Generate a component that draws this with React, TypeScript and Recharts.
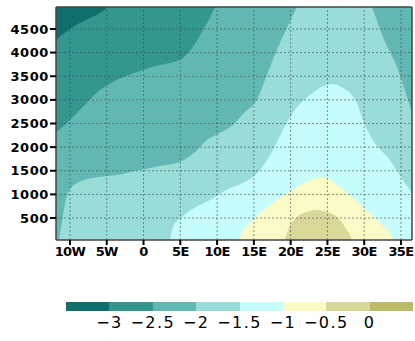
import { ComposedChart, Area, XAxis, YAxis, ReferenceLine } from "recharts";

const LON_TICKS = [-10, -5, 0, 5, 10, 15, 20, 25, 30, 35];
const LON_LABELS = ["10W", "5W", "0", "5E", "10E", "15E", "20E", "25E", "30E", "35E"];
const HGT_TICKS = [500, 1000, 1500, 2000, 2500, 3000, 3500, 4000, 4500];

const LEVEL_LABELS = ["−3", "−2.5", "−2", "−1.5", "−1", "−0.5", "0"];
const COLORS = ["#0e6f6b", "#33978f", "#62b9b4", "#99dcd8", "#c6fcfc", "#fbfbc8", "#d9d89a", "#bdbc66"];

// contour lines: where the field crosses each level (longitude, height)
// everything above a line is at or below that level
const C1_LON = [-11.9, -10.0, -8.65, -7.29, -5.93, -4.84, -3.48, -1.85];
const C1_HGT = [4266, 4499, 4626, 4732, 4838, 4964, 5176, 5367];

const C2_LON = [-11.9, -10.0, -8.65, -5.93, -3.62, -0.08, 2.23, 3.59, 5.36, 6.72, 8.07, 9.03, 9.71, 10.66];
const C2_HGT = [2298, 2573, 2785, 3208, 3420, 3631, 3737, 3779, 3885, 4118, 4478, 4732, 4964, 5282];

const C3_LON = [-12.04, -11.77, -11.5, -11.0, -10.28, -9.05, -6.88, -3.62, -0.49, 2.23, 4.95, 6.99, 8.62, 10.39, 12.15, 13.78, 15.41, 16.77, 18.13, 19.49, 20.85, 22.62, 26.02, 29.42, 31.05, 32.55, 34.45, 35.81, 36.6];
const C3_HGT = [-389, -178, 34, 520, 1028, 1240, 1346, 1409, 1515, 1600, 1684, 1896, 2150, 2298, 2467, 2742, 2997, 3525, 4054, 4520, 4964, 5535, 5958, 5535, 4964, 4329, 3694, 3060, 2700];

const C4_LON = [-12, 2.5, 3.59, 4.0, 5.9, 9.03, 11.75, 13.51, 15.83, 17.59, 18.95, 20.58, 22.62, 24.25, 25.74, 27.1, 28.33, 29.01, 29.82, 31.18, 33.49, 35.26, 36.6];
const C4_HGT = [-600, -500, 34, 309, 605, 880, 1134, 1240, 1515, 1938, 2362, 2785, 3102, 3271, 3335, 3250, 3102, 2933, 2573, 2150, 1727, 1303, 1010];

const C5_LON = [-12, 11.5, 12.56, 13.1, 14.87, 17.59, 20.85, 22.62, 24.39, 26.7, 29.83, 32.14, 33.9, 34.45, 35.5, 36.6];
const C5_HGT = [-600, -600, -178, 97, 457, 817, 1155, 1303, 1367, 1155, 732, 394, 76, -178, -600, -600];

const C6_LON = [-12, 18.3, 18.95, 19.22, 19.5, 20.85, 22.21, 23.57, 24.93, 26.29, 27.65, 28.33, 28.6, 29.3, 36.6];
const C6_HGT = [-600, -600, -178, 34, 182, 521, 626, 669, 626, 521, 245, 34, -178, -600, -600];

const X_DOMAIN: [number, number] = [-11.9, 36.5];
const Y_DOMAIN: [number, number] = [35, 4965];
const CEIL = 7000;

const toRows = (lon: number[], hgt: number[]) =>
  lon.map((l, i) => ({ lon: l, v: [hgt[i], CEIL] }));

const background = toRows([-12, 36.6], [-1000, -1000]);
const contours = [
  { key: "c6", rows: toRows(C6_LON, C6_HGT), color: COLORS[5] },
  { key: "c5", rows: toRows(C5_LON, C5_HGT), color: COLORS[4] },
  { key: "c4", rows: toRows(C4_LON, C4_HGT), color: COLORS[3] },
  { key: "c3", rows: toRows(C3_LON, C3_HGT), color: COLORS[2] },
  { key: "c2", rows: toRows(C2_LON, C2_HGT), color: COLORS[1] },
  { key: "c1", rows: toRows(C1_LON, C1_HGT), color: COLORS[0] },
];

const font = "'DejaVu Sans', sans-serif";

export default function App() {
  return (
    <div style={{ position: "fixed", left: 0, top: 0, width: 415, height: 341, background: "#fff" }}>
      <ComposedChart width={415} height={270} margin={{ top: 7, right: 3, bottom: 0, left: 0 }}>
        <XAxis
          dataKey="lon"
          type="number"
          domain={X_DOMAIN}
          allowDataOverflow
          ticks={LON_TICKS}
          tickFormatter={(v: number) => LON_LABELS[LON_TICKS.indexOf(v)] ?? ""}
          height={30}
          tickSize={5}
          tickMargin={2}
          axisLine={{ stroke: "#444", strokeWidth: 1.5 }}
          tickLine={{ stroke: "#000", strokeWidth: 2 }}
          tick={{ fontSize: 13, fill: "#000", fontFamily: font, fontWeight: "bold", letterSpacing: -0.6 }}
        />
        <YAxis
          type="number"
          domain={Y_DOMAIN}
          allowDataOverflow
          ticks={HGT_TICKS}
          width={56}
          tickSize={6}
          tickMargin={1}
          axisLine={{ stroke: "#444", strokeWidth: 1.5 }}
          tickLine={{ stroke: "#000", strokeWidth: 2 }}
          tick={{ fontSize: 13, fill: "#000", fontFamily: font, fontWeight: "bold", letterSpacing: 0.6 }}
        />
        <Area
          data={background}
          dataKey="v"
          type="linear"
          fill={COLORS[6]}
          fillOpacity={1}
          stroke="none"
          isAnimationActive={false}
        />
        {contours.map(c => (
          <Area
            key={c.key}
            data={c.rows}
            dataKey="v"
            type="monotone"
            fill={c.color}
            fillOpacity={1}
            stroke="none"
            isAnimationActive={false}
          />
        ))}
        {LON_TICKS.map(t => (
          <ReferenceLine key={"x" + t} x={t} stroke="#3c4c4c" strokeOpacity={0.6} strokeDasharray="2 2" />
        ))}
        {HGT_TICKS.map(t => (
          <ReferenceLine key={"y" + t} y={t} stroke="#3c4c4c" strokeOpacity={0.6} strokeDasharray="2 2" />
        ))}
        <ReferenceLine y={Y_DOMAIN[1]} stroke="#444" strokeWidth={1.5} />
        <ReferenceLine x={X_DOMAIN[1]} stroke="#444" strokeWidth={1.5} />
      </ComposedChart>

      {/* colour bar */}
      <div style={{ position: "absolute", left: 66, top: 302, width: 347, height: 9, display: "flex" }}>
        {COLORS.map(c => (
          <div key={c} style={{ flex: 1, background: c }} />
        ))}
      </div>
      {LEVEL_LABELS.map((l, i) => (
        <span
          key={l}
          style={{
            position: "absolute",
            left: 66 + (347 / 8) * (i + 1),
            top: 315,
            transform: "translateX(-50%)",
            fontFamily: font,
            fontSize: 16,
            letterSpacing: 1.4,
            lineHeight: "16px",
            color: "#000",
            whiteSpace: "nowrap",
          }}
        >
          {l}
        </span>
      ))}
    </div>
  );
}
